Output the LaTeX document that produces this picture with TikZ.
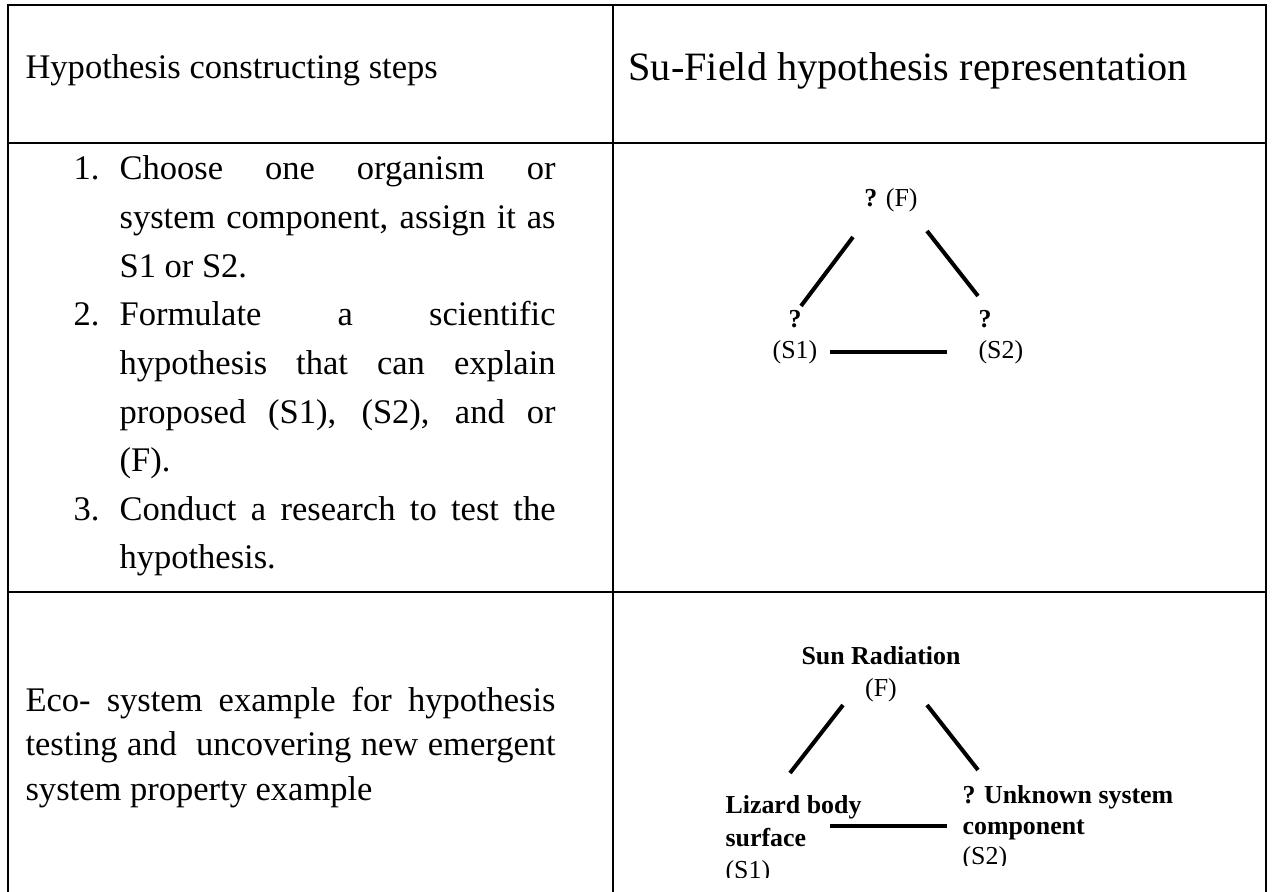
\documentclass[tikz,border=0pt]{standalone}
\usepackage{fontspec}
\setmainfont{Liberation Serif}

\begin{document}
\begin{tikzpicture}[
    x = 0.3477pt, % one pixel of the page
    y = -0.3477pt,
    tableline/.style = {line width=1pt},
    sulink/.style = {line width=1.4pt},
    sutext/.style = {inner sep=0pt, font=\fontsize{9}{10.6}\selectfont},
    bodytext/.style = {inner sep=0pt, anchor=base west, font=\fontsize{12}{16.9}\selectfont}
    ]
    \useasboundingbox (0,0) rectangle (1273,892);

    % table
    \draw[tableline] (8,892) -- (8,5) -- (1266,5) -- (1266,892);
    \draw[tableline] (613,5) -- (613,892);
    \draw[tableline] (8,143) -- (1266,143);
    \draw[tableline] (8,592) -- (1266,592);

    % header row
    \node[bodytext] (hdleft) at (25,79) {Hypothesis constructing steps};
    \node[bodytext, font=\fontsize{14}{16}\selectfont] (hdright) at (628,81) {Su-Field hypothesis representation};

    % steps
    \node[bodytext, text width=151.6pt, align=justify] (steps) at (119,180) {%
      \hspace*{-16pt}\makebox[16pt][l]{1.}Choose one organism or\linebreak
      system component, assign it as\linebreak
      S1 or S2.\par
      \hspace*{-16pt}\makebox[16pt][l]{2.}Formulate a scientific\linebreak
      hypothesis that can explain\linebreak
      proposed (S1), (S2), and or\linebreak
      (F).\par
      \hspace*{-16pt}\makebox[16pt][l]{3.}Conduct a research to test the\linebreak
      hypothesis.};

    % general Su-Field
    \node[sutext] (fup) at (891,200) {\textbf{?} (F)};
    \node[sutext, align=center] (s1up) at (795,337) {\textbf{?}\\(S1)};
    \node[sutext, align=left, anchor=west] (s2up) at (978,337) {\textbf{?}\\(S2)};

    \draw[sulink] ([shift={(-38,37)}]fup.center) -- ([shift={(6,-31)}]s1up.center);
    \draw[sulink] ([shift={(36,31)}]fup.center) -- ([shift={(0,-41)}]s2up.west);
    \draw[sulink] ([shift={(35,15)}]s1up.center) -- ([shift={(-31,15)}]s2up.west);

    % example row
    \node[bodytext, text width=184.3pt, align=justify, font=\fontsize{12}{15.6}\selectfont] (eco) at (25,711) {%
      Eco- system example for hypothesis\linebreak
      testing and\ \ uncovering new emergent\linebreak
      system property example};

    \node[sutext, align=center, font=\fontsize{9}{11}\selectfont] (fdown) at (881,674) {\textbf{Sun Radiation}\\(F)};
    \begin{scope}
      \clip (620,600) rectangle (955,877);
      \node[sutext, align=left, anchor=west, font=\fontsize{9}{11.3}\selectfont] (s1down) at (725,840) {\textbf{Lizard body}\\\textbf{surface}\\(S1)};
    \end{scope}
    \begin{scope}
      \clip (955,600) rectangle (1262,865);
      \node[sutext, align=left, anchor=west] (s2down) at (962,828) {\textbf{? Unknown system}\\\textbf{component}\\(S2)};
    \end{scope}

    \draw[sulink] ([shift={(-38,31)}]fdown.center) -- ([shift={(65,-67)}]s1down.west);
    \draw[sulink] ([shift={(46,31)}]fdown.center) -- ([shift={(16,-58)}]s2down.west);
    \draw[sulink] ([shift={(105,-14)}]s1down.west) -- ([shift={(-15,-2)}]s2down.west);
\end{tikzpicture}
\end{document}
